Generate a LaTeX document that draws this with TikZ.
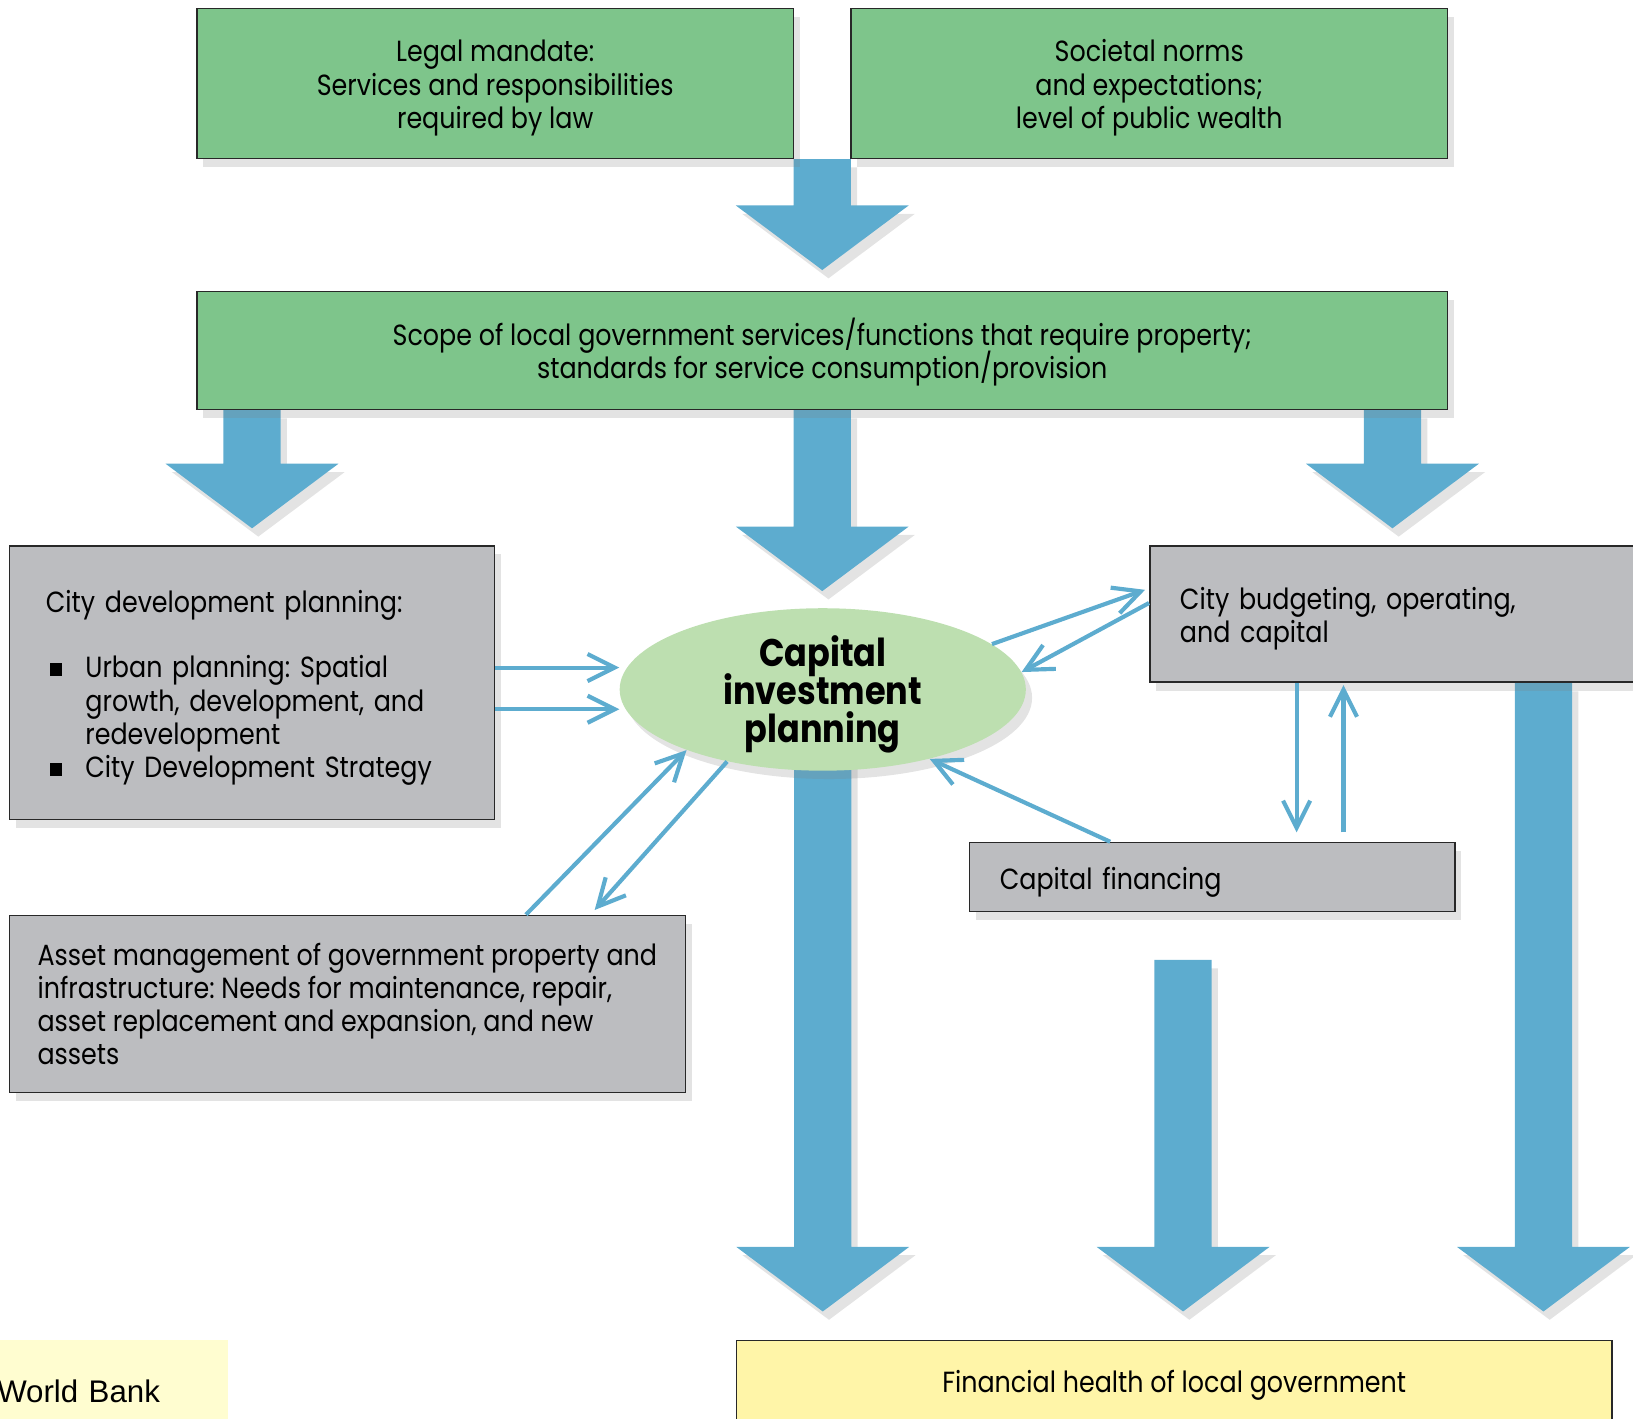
\documentclass[tikz,border=0pt]{standalone}
\usepackage{fontspec}
\setmainfont{Poppins}[FakeStretch=0.87]
\newfontfamily\wbfont{Liberation Sans}
\usepackage{tikz}
\usetikzlibrary{shapes,shapes.geometric,calc,positioning,arrows.meta,shadows,backgrounds}
\definecolor{boxgreen}{RGB}{126,197,139}
\definecolor{ellgreen}{RGB}{189,223,176}
\definecolor{boxgrey}{RGB}{188,189,192}
\definecolor{arrblue}{RGB}{93,172,207}
\definecolor{boxyellow}{RGB}{255,245,168}
\definecolor{paleyellow}{RGB}{255,253,208}
\definecolor{edgegrey}{RGB}{40,40,40}
\frenchspacing
\newcommand{\boxfont}{\fontsize{14}{16}\selectfont\lineskiplimit=-10pt\relax}
\newcommand{\cipfont}{\fontsize{18.5}{18.25}\selectfont\bfseries\lineskiplimit=-10pt\relax}
\newcommand{\sqbullet}{\makebox[17pt][l]{\rule[1pt]{6pt}{6pt}}}
\tikzset{
  shade/.style={drop shadow={opacity=.22, shadow xshift=3pt, shadow yshift=-4pt}},
  lower/.style={execute at begin node={\rule{0pt}{#1}}},
  gbox/.style={rectangle, draw=edgegrey, line width=.75pt, fill=boxgreen, shade, font=\boxfont, align=flush center, inner sep=0pt, lower=15pt},
  sbox/.style={rectangle, draw=edgegrey, line width=.75pt, fill=boxgrey, shade, font=\boxfont, align=left, lower=15.5pt},
  ybox/.style={rectangle, draw=edgegrey, line width=.75pt, fill=boxyellow, font=\boxfont, align=flush center, lower=15pt},
  cipnode/.style={ellipse, fill=ellgreen, shade, inner xsep=0pt, inner ysep=-4pt, align=flush center, lower=19.5pt, font=\cipfont},
  fatarr/.style={fill=arrblue, shade},
  thinarr/.style={draw=arrblue, line width=2pt, -{Straight Barb[length=13pt,width=13pt]}}
}
\newcommand{\fatarrow}[2]{%
  \fill[fatarr] let \p1=(#1), \p2=(#2) in
    (\x1-13.75pt,\y1) -- (\x1-13.75pt,\y2+31pt) -- (\x1-41.5pt,\y2+31pt) -- (\x1,\y2)
    -- (\x1+41.5pt,\y2+31pt) -- (\x1+13.75pt,\y2+31pt) -- (\x1+13.75pt,\y1) -- cycle;}

\begin{document}
\begin{tikzpicture}[x=0.5pt,y=-0.5pt]
\clip (0,0) rectangle (1568,1362);

\node[gbox, minimum width=286.5pt, minimum height=72pt, text width=280pt] (leg) at (475.5,80)
  {Legal mandate:\\ Services and responsibilities\\ required by law};
\node[gbox, minimum width=286.5pt, minimum height=72pt, text width=280pt] (soc) at (1103.5,80)
  {Societal norms\\ and expectations;\\ level of public wealth};
\node[gbox, minimum width=600.5pt, minimum height=56.5pt, text width=590pt, lower=12pt] (scope) at (789.5,336.5)
  {Scope of local government services/functions that require property;\\ standards for service consumption/provision};

\node[sbox, minimum width=233pt, minimum height=131.5pt, text width=198pt, inner xsep=17.5pt] (cdp) at (242,655.5)
  {City development planning:\\[15.5pt]
   \hspace*{2pt}\sqbullet Urban planning: Spatial\\
   \hspace*{19pt}growth, development, and\\
   \hspace*{19pt}redevelopment\\
   \hspace*{2pt}\sqbullet City Development Strategy};
\node[cipnode, minimum width=195pt, minimum height=78pt, text width=120pt] (cip) at (790,662)
  {Capital\\ investment\\ planning};
\node[sbox, minimum width=258pt, minimum height=65.5pt, text width=229pt, inner xsep=14.5pt] (bcap) at (1362,589.5)
  {City budgeting, operating,\\ and capital};
\node[sbox, minimum width=233pt, minimum height=33pt, text width=204pt, inner xsep=14.5pt] (cfn) at (1164,842)
  {Capital financing};
\node[sbox, minimum width=324.5pt, minimum height=85pt, lower=17pt] (asn) at (333.5,964)
  {Asset management of government property and\\ infrastructure: Needs for maintenance, repair,\\ asset replacement and expansion, and new\\ assets};
\node[ybox, minimum width=420.5pt, minimum height=39pt] (fin) at (1127.5,1326)
  {Financial health of local government};
\node[fill=paleyellow, anchor=west, text width=111pt, minimum height=49pt, inner xsep=0pt, align=left, font=\wbfont\fontsize{15}{18}\selectfont] (wb) at (-3,1336)
  {World Bank};

\coordinate (top) at ($(leg.south east)!.5!(soc.south west)$);
\coordinate (rt) at ([xshift=-12.5pt]bcap.north);
\coordinate (fs) at ($(cfn.south)+(-28,46)$);
\coordinate (br) at ([xshift=60pt]bcap.south);
\begin{pgfonlayer}{background}
\fatarrow{top}{$(scope.north)+(0,-20)$}
\fatarrow{scope.south -| cdp.north}{$(cdp.north)+(0,-16)$}
\fatarrow{scope.south}{$(cip.north)+(0,-16)$}
\fatarrow{scope.south -| rt}{$(rt)+(0,-16)$}
\fatarrow{cip.center}{$(fin.north -| cip)+(0,-27)$}
\fatarrow{fs}{$(fin.north -| fs)+(0,-27)$}
\fatarrow{br}{$(fin.north -| br)+(0,-27)$}
\end{pgfonlayer}

\draw[thinarr] ([yshift=7.25pt]cdp.east) -- ([yshift=7.25pt]cdp.east -| cip.west);
\draw[thinarr] ([yshift=-12.75pt]cdp.east) -- ([yshift=-12.75pt]cdp.east -| cip.west);
\draw[thinarr] ([xshift=85.75pt]asn.north) -- (cip.204);
\draw[thinarr, shorten >=3pt] (cip.217) -- ([xshift=116.75pt]asn.north);
\draw[thinarr, shorten >=2pt] (cip.15) -- ([yshift=12.25pt]bcap.west);
\draw[thinarr] ([yshift=5.25pt]bcap.west) -- (cip.5);
\coordinate (dn) at ([xshift=40.5pt]cfn.north);
\coordinate (up) at ([xshift=63pt]cfn.north);
\draw[thinarr, shorten >=4.5pt] (dn |- bcap.south) -- (dn);
\draw[thinarr, shorten <=4.5pt, shorten >=1pt] (up) -- (up |- bcap.south);
\draw[thinarr] ([xshift=-49pt]cfn.north) -- (cip.-33);
\end{tikzpicture}
\end{document}
